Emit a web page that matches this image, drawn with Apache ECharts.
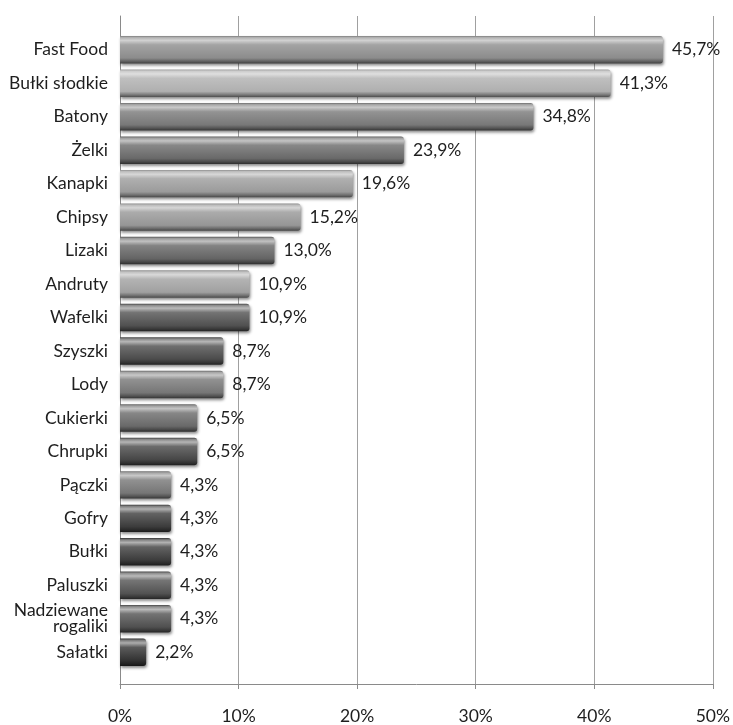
<!DOCTYPE html>
<html>
<head>
<meta charset="utf-8">
<script src="https://cdn.jsdelivr.net/npm/echarts@6/dist/echarts.min.js"></script>
<style>html,body{margin:0;padding:0;background:#fff}#c{width:733px;height:725px}</style>
</head>
<body>
<div id="c"></div>
<script>
var categories = ['Fast Food','Bułki słodkie','Batony','Żelki','Kanapki','Chipsy','Lizaki','Andruty','Wafelki','Szyszki','Lody','Cukierki','Chrupki','Pączki','Gofry','Bułki','Paluszki','Nadziewane\nrogaliki','Sałatki'];
var values = [45.7,41.3,34.8,23.9,19.6,15.2,13.0,10.9,10.9,8.7,8.7,6.5,6.5,4.3,4.3,4.3,4.3,4.3,2.2];
var xTicks = [0,10,20,30,40,50];
// style: base gray tone per bar
var barShades = [140,175,120,105,155,150,100,160,80,75,118,105,70,118,60,60,82,80,50];

function g(v){v=Math.max(0,Math.min(255,Math.round(v)));return 'rgb('+v+','+v+','+v+')';}
function lighten(b,f){return b+(255-b)*f;}
function darken(b,f){return b*(1-f);}
function grad(b){
  return new echarts.graphic.LinearGradient(0,0,0,1,[
    {offset:0,color:g(darken(b,0.1))},
    {offset:0.06,color:g(lighten(b,0.35))},
    {offset:0.16,color:g(lighten(b,0.6))},
    {offset:0.32,color:g(lighten(b,0.2))},
    {offset:0.8,color:g(b)},
    {offset:0.92,color:g(darken(b,0.3))},
    {offset:1,color:g(darken(b,0.55))}
  ]);
}

var font = 'Lato';
var fs = 17.5;
var chart = echarts.init(document.getElementById('c'));
chart.setOption({
  animation:false,
  backgroundColor:'#fff',
  grid:[
    {left:120,right:19,top:16,bottom:38,containLabel:false},
    {left:120,right:19,top:33,bottom:56,containLabel:false}
  ],
  xAxis:[
    {gridIndex:0,type:'value',min:xTicks[0],max:xTicks[xTicks.length-1],interval:10,
     axisLine:{show:true,lineStyle:{color:'#8a8a8a',width:1}},
     axisTick:{show:true,length:5,lineStyle:{color:'#8a8a8a'}},
     splitLine:{show:true,lineStyle:{color:'#a0a0a0',width:1}},
     axisLabel:{formatter:'{value}%',margin:23,fontFamily:font,fontSize:fs,color:'#1e1e1e'}},
    {gridIndex:1,type:'value',min:xTicks[0],max:xTicks[xTicks.length-1],interval:10,show:false}
  ],
  yAxis:[
    {gridIndex:0,type:'category',inverse:true,data:categories,
     axisLine:{show:true,lineStyle:{color:'#8a8a8a',width:1}},
     axisTick:{show:false},axisLabel:{show:false},splitLine:{show:false}},
    {gridIndex:1,type:'category',inverse:true,data:categories,
     axisLine:{show:false},axisTick:{show:false},splitLine:{show:false},
     axisLabel:{margin:12,fontFamily:font,fontSize:fs,color:'#1e1e1e',align:'right',lineHeight:16}}
  ],
  series:[{
    type:'bar',xAxisIndex:1,yAxisIndex:1,
    barCategoryGap:'18%',
    data:values.map(function(v,i){
      return {value:v,itemStyle:{color:grad(barShades[i])}};
    }),
    itemStyle:{borderRadius:[0,3,3,0],shadowColor:'rgba(0,0,0,0.45)',shadowBlur:3,shadowOffsetX:1,shadowOffsetY:2},
    label:{show:true,position:'right',distance:9,fontFamily:font,fontSize:fs,color:'#1e1e1e',
      formatter:function(p){return p.value.toFixed(1).replace('.',',')+'%';}}
  }]
});
</script>
</body>
</html>
